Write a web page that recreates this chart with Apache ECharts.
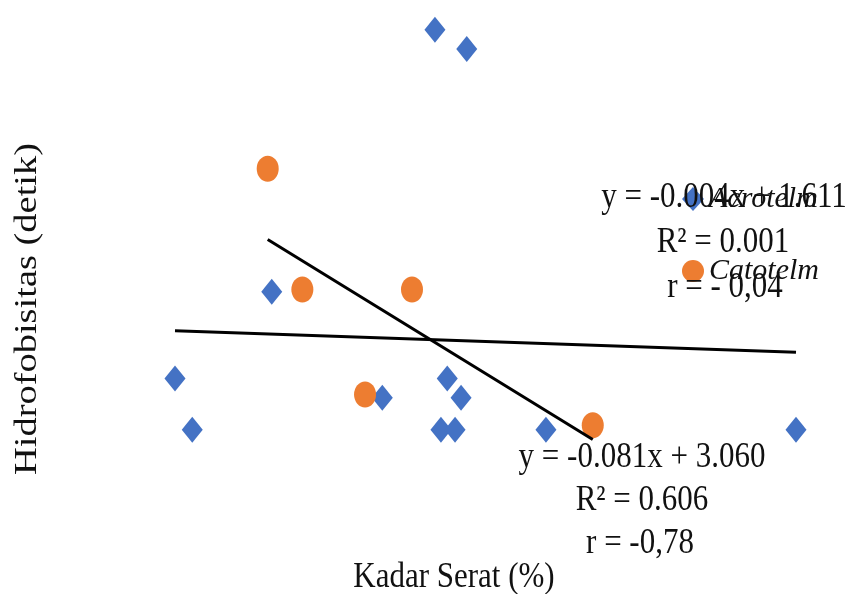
<!DOCTYPE html>
<html>
<head>
<meta charset="utf-8">
<script src="https://cdn.jsdelivr.net/npm/echarts@6/dist/echarts.min.js"></script>
<style>
html,body{margin:0;padding:0;background:#fff;}
#chart{width:850px;height:594px;}
</style>
</head>
<body>
<div id="chart"></div>
<script>
// Kadar Serat (%) and Hidrofobisitas (detik)
const seriesNames = ['Acrotelm', 'Catotelm'];
const acroX = [19.13, 21.25, 8.25, 1.8, 2.95, 15.62, 19.95, 20.87, 19.53, 20.47, 26.53, 43.2];
const acroY = [4.24, 4.07, 1.94, 1.18, 0.73, 1.01, 1.18, 1.01, 0.73, 0.73, 0.73, 0.73];
const cataX = [7.98, 10.29, 17.6, 14.47, 29.65];
const cataY = [3.02, 1.96, 1.96, 1.04, 0.77];
const acroEq = ['y = -0.004x + 1.611', 'R\u00b2 = 0.001', 'r = - 0,04'];
const cataEq = ['y = -0.081x + 3.060', 'R\u00b2 = 0.606', 'r = -0,78'];
const xTitle = 'Kadar Serat (%)';
const yTitle = 'Hidrofobisitas (detik)';

function pairs(xs, ys) { return xs.map((x, i) => [x, ys[i]]); }
function trend(xs, ys) {
  const n = xs.length;
  const mx = xs.reduce((a, b) => a + b, 0) / n;
  const my = ys.reduce((a, b) => a + b, 0) / n;
  let sxy = 0, sxx = 0;
  for (let i = 0; i < n; i++) { sxy += (xs[i] - mx) * (ys[i] - my); sxx += (xs[i] - mx) * (xs[i] - mx); }
  const k = sxy / sxx, b = my - k * mx;
  const x0 = Math.min(...xs), x1 = Math.max(...xs);
  return [[x0, k * x0 + b], [x1, k * x1 + b]];
}

const FONT = '"Liberation Serif", "Times New Roman", serif';
const SY = 1.15;
function txt(text, x, y, extra) {
  return Object.assign({
    type: 'text', x: x, y: y, scaleY: SY, z: 50,
    style: { text: text, fontFamily: FONT, fontSize: 31, fill: '#111',
      textAlign: 'center', textVerticalAlign: 'middle', align: 'center', verticalAlign: 'middle' }
  }, extra || {});
}

const chart = echarts.init(document.getElementById('chart'), null, { renderer: 'canvas' });
chart.setOption({
  animation: false,
  backgroundColor: '#fff',
  grid: { left: 148, right: 12, top: 0, bottom: 81, containLabel: false },
  xAxis: { type: 'value', min: 0, max: 46, show: false },
  yAxis: { type: 'value', min: 0, max: 4.5, show: false },
  legend: {
    data: seriesNames,
    orient: 'vertical', left: 677, top: 179,
    itemWidth: 22, itemHeight: 24, itemGap: 42,
    textStyle: { fontFamily: FONT, fontStyle: 'italic', fontSize: 30, color: '#111', lineHeight: 30 }
  },
  graphic: [
    txt(acroEq[0], 724, 198),
    txt(acroEq[1], 723, 243),
    txt(acroEq[2], 725, 288),
    txt(cataEq[0], 642, 458),
    txt(cataEq[1], 642, 501),
    txt(cataEq[2], 640, 544),
    txt(xTitle, 454, 578),
    txt(yTitle, 28, 309, { rotation: Math.PI / 2, scaleY: 1, scaleX: 1.24 })
  ],
  series: [
    { name: seriesNames[0], type: 'scatter', symbol: 'diamond', symbolSize: [21, 26],
      itemStyle: { color: '#4472C4', opacity: 1 }, data: pairs(acroX, acroY), z: 3 },
    { name: seriesNames[1], type: 'scatter', symbol: 'circle', symbolSize: [22, 26],
      itemStyle: { color: '#ED7D31', opacity: 1 }, data: pairs(cataX, cataY), z: 3 },
    { name: 'trendA', type: 'line', data: trend(acroX, acroY), showSymbol: false, symbol: 'none',
      lineStyle: { color: '#000', width: 3 }, z: 4, silent: true },
    { name: 'trendC', type: 'line', data: trend(cataX, cataY), showSymbol: false, symbol: 'none',
      lineStyle: { color: '#000', width: 3 }, z: 4, silent: true }
  ]
});
</script>
</body>
</html>
